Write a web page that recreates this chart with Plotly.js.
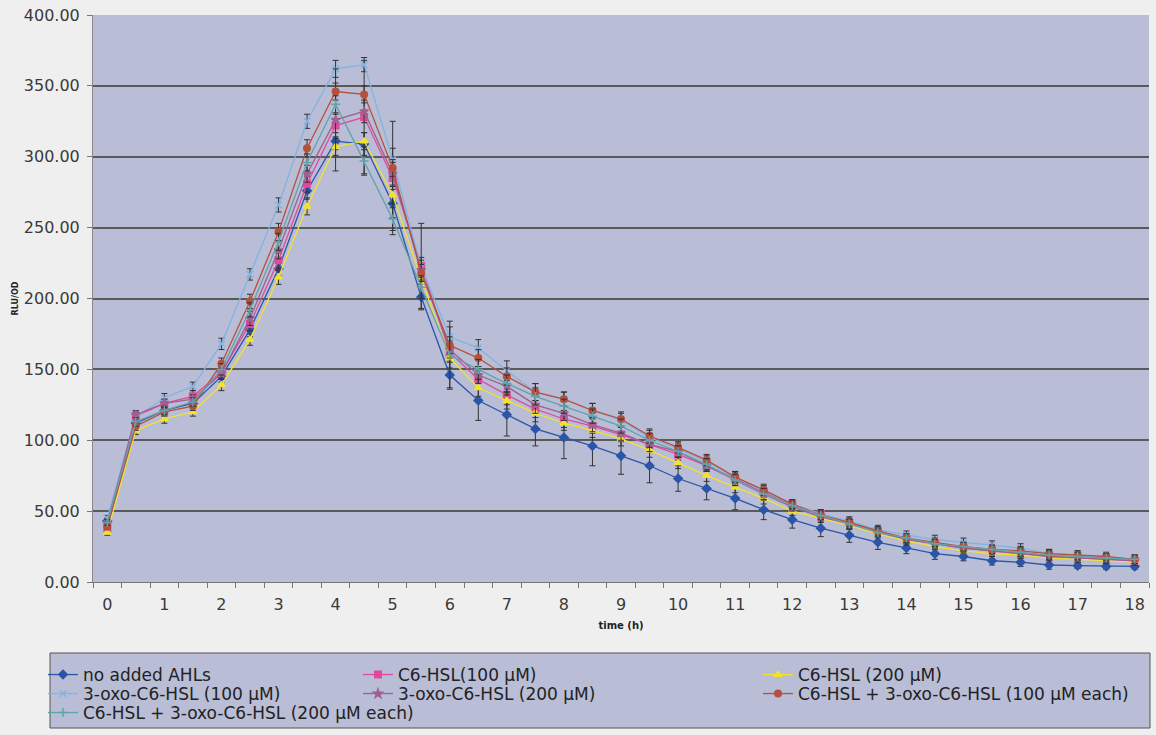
<!DOCTYPE html>
<html><head><meta charset="utf-8">
<script src="https://cdn.plot.ly/plotly-3.0.1.min.js"></script>
<style>html,body{margin:0;padding:0;background:#efeff0;} #chart{width:1156px;height:735px;}</style>
</head><body><div id="chart"></div>
<script>
const timeH = [0,0.5,1,1.5,2,2.5,3,3.5,4,4.5,5,5.5,6,6.5,7,7.5,8,8.5,9,9.5,10,10.5,11,11.5,12,12.5,13,13.5,14,14.5,15,15.5,16,16.5,17,17.5,18];
const xTickLabels = ['0','1','2','3','4','5','6','7','8','9','10','11','12','13','14','15','16','17','18'];
const seriesNames = ['no added AHLs','C6-HSL(100 µM)','C6-HSL (200 µM)','3-oxo-C6-HSL (100 µM)','3-oxo-C6-HSL (200 µM)','C6-HSL + 3-oxo-C6-HSL (100 µM each)','C6-HSL + 3-oxo-C6-HSL (200 µM each)'];

const noAHL     = [43,112,121,126,145,178,221,276,311,309,267,201,146,128,118,108,102,96,89,82,73,66,59,51,44,38,33,28,24,20,18,15,14,12,11.5,11,11];
const c6_100    = [38,117,126,131,148,182,227,281,322,328,285,223,162,143,132,122,115,110,104,97,90,82,73,63,55,48,42,36,30,27,24,22,20,18,17,16,15];
const c6_200    = [35,107,115,120,139,171,215,265,307,311,273,214,158,137,128,119,112,107,101,93,84,75,67,59,50,45,40,34,29,25,22,20,19,17,16,15,14];
const oxo_100   = [45,116,130,138,168,217,266,325,362,365,298,222,173,165,149,134,129,121,114,102,94,85,74,64,55,48,43,37,33,30,28,26,24,20,19,17,16];
const oxo_200   = [41,118,126,129,147,186,234,288,326,332,288,220,164,146,138,125,119,111,105,97,92,82,72,62,53,46,41,35,30,27,24,22,20,18,17,16,15];
const combo_100 = [39,110,120,124,154,198,247,306,346,344,292,218,167,158,145,134,129,121,115,103,95,86,74,65,55,47,42,36,31,28,25,23,22,20,19,18,16];
const combo_200 = [42,113,121,127,150,192,240,296,337,297,256,208,160,150,140,131,124,117,110,100,92,83,72,62,54,47,41,35,31,27,25,23,21,19,18,17,16];

const err_noAHL     = [2,3,3,3,4,5,5,6,6,8,10,9,9,14,15,12,15,14,13,12,9,8,8,7,6,6,5,5,4,4,3,3,3,3,2,2,2];
const err_c6_100    = [2,3,3,4,4,5,6,6,8,40,40,30,6,6,7,6,6,5,5,5,4,4,4,4,3,3,3,3,3,3,3,3,3,2,2,2,2];
const err_c6_200    = [2,3,3,3,4,4,5,6,6,6,6,6,7,6,6,6,5,5,5,5,4,4,4,4,3,3,3,3,3,2,2,2,2,2,2,2,2];
const err_oxo_100   = [2,3,3,3,4,4,5,5,6,5,8,7,7,6,7,6,5,5,5,5,4,4,4,4,3,3,3,3,3,3,3,3,3,3,3,3,3];
const err_oxo_200   = [2,3,3,3,4,5,6,6,36,8,8,7,6,6,6,6,5,5,5,5,4,4,4,4,3,3,3,3,3,3,3,3,3,3,3,3,3];
const err_combo_100 = [2,3,3,3,4,5,6,6,6,6,6,6,6,6,6,6,5,5,5,5,4,4,4,4,3,3,3,3,3,3,3,3,3,3,3,3,3];
const err_combo_200 = [2,3,3,3,4,5,6,6,6,10,8,8,24,7,6,6,5,5,5,5,4,4,4,4,3,3,3,3,3,3,3,3,3,3,3,3,3];

const values = [noAHL,c6_100,c6_200,oxo_100,oxo_200,combo_100,combo_200];
const errors = [err_noAHL,err_c6_100,err_c6_200,err_oxo_100,err_oxo_200,err_combo_100,err_combo_200];
const colors = ['#2a55a8','#e04a9e','#f2e230','#82b4e0','#a0608f','#b5503c','#62a2aa'];
const symbols = ['diamond','square','triangle-up','x-thin-open','star','circle','cross-thin-open'];
const legendIds = ['legend','legend2','legend3','legend4','legend5','legend6','legend7'];

const traces = values.map((v,i)=>({
  type:'scatter', mode:'lines+markers', name:seriesNames[i], x:timeH, y:v,
  legend:legendIds[i],
  line:{color:colors[i], width:1.3},
  marker:{color:colors[i], symbol:symbols[i], size:6.5, line:{color:colors[i], width:1.5}},
  error_y:{type:'data', array:errors[i], visible:true, color:'#333333', thickness:1, width:3}
}));

const font = {family:'DejaVu Sans, Arial, sans-serif', size:16, color:'#3a3a3a'};
const px = p => (p-93)/1056;
const py = p => (582-p)/567;
const legendBase = {bgcolor:'rgba(0,0,0,0)', borderwidth:0, font:{family:'DejaVu Sans, Arial, sans-serif', size:17, color:'#222'}, yanchor:'middle', xanchor:'left', tracegroupgap:0, itemwidth:30, orientation:'v'};
// column left edges (px) and row centres (px) of the legend grid
const colX = [43, 358, 758];
const rowY = [675, 694, 713];
const legendPos = [[0,0],[1,0],[2,0],[0,1],[1,1],[2,1],[0,2]];

const layout = {
  width:1156, height:735,
  margin:{l:93, r:7, t:15, b:153, autoexpand:false},
  paper_bgcolor:'#efeff0', plot_bgcolor:'#b9bdd6',
  font:font,
  showlegend:true,
  xaxis:{range:[-0.25,18.25], tickmode:'array', tickvals:xTickLabels.map(Number), ticktext:xTickLabels,
    ticks:'', showgrid:false, zeroline:false, showline:true, linecolor:'#777', linewidth:1,
    ticklabelstandoff:8, tickfont:font,
    minor:{tick0:-0.25, dtick:0.5, ticks:'outside', ticklen:5, tickcolor:'#777', showgrid:false},
    title:{text:'<b>time (h)</b>', font:{family:'DejaVu Sans, Arial, sans-serif', size:10, color:'#222'}, standoff:8},
    automargin:false},
  yaxis:{range:[0,400], dtick:50, tickformat:'.2f', ticks:'outside', ticklen:5, tickcolor:'#777',
    showgrid:true, gridcolor:'#5a5a5a', gridwidth:2, zeroline:false, showline:true, linecolor:'#888', linewidth:1,
    ticklabelstandoff:4, tickfont:font,
    title:{text:'<b>RLU/OD</b>', font:{family:'DejaVu Sans, Arial, sans-serif', size:8, color:'#222'}, standoff:4},
    automargin:false},
  shapes:[{type:'rect', xref:'paper', yref:'paper', x0:px(50), x1:px(1150), y0:py(728), y1:py(653),
    fillcolor:'#b9bdd6', line:{color:'#555', width:1}, layer:'below'}]
};
legendIds.forEach((id,i)=>{
  const [c,r] = legendPos[i];
  layout[id] = Object.assign({}, legendBase, {x:px(colX[c]), y:py(rowY[r])});
});

Plotly.newPlot('chart', traces, layout, {displayModeBar:false, staticPlot:true});
</script>
</body></html>
